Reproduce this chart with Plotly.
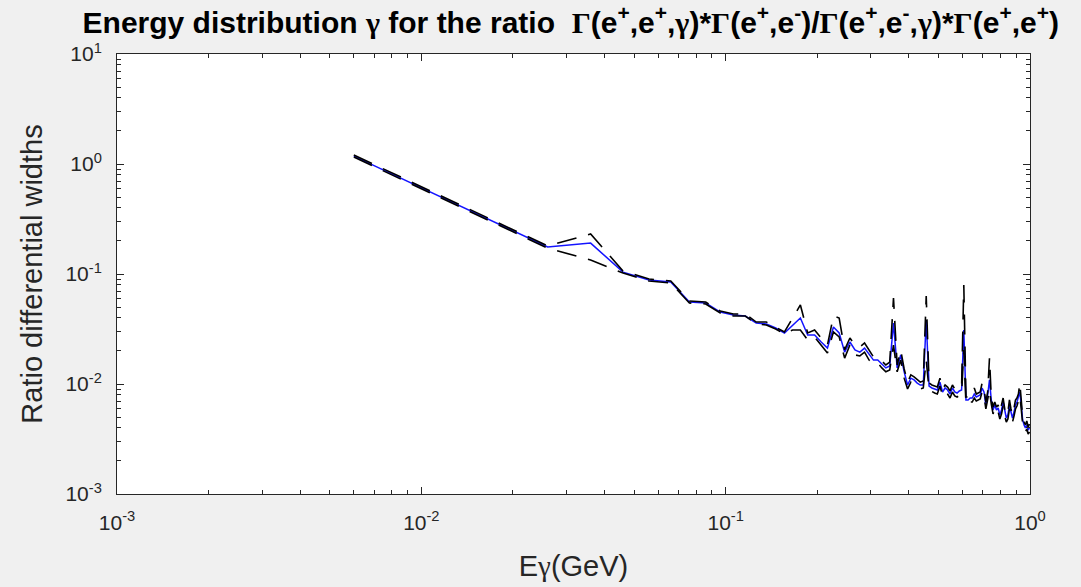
import plotly.graph_objects as go

# Photon energy grid (GeV)
energy = [
    0.006, 0.016, 0.026, 0.036, 0.046, 0.056, 0.066, 0.076, 0.086, 0.096,
    0.106, 0.116, 0.126, 0.136, 0.146, 0.156, 0.166, 0.176, 0.186, 0.196,
    0.206, 0.216, 0.226, 0.236, 0.246, 0.256, 0.266, 0.276, 0.286, 0.296,
    0.306, 0.316, 0.326, 0.336, 0.346, 0.356, 0.366, 0.376, 0.386, 0.396,
    0.406, 0.416, 0.426, 0.436, 0.446, 0.456, 0.466, 0.476, 0.486, 0.496,
    0.506, 0.516, 0.526, 0.536, 0.546, 0.556, 0.566, 0.576, 0.586, 0.596,
    0.606, 0.616, 0.626, 0.636, 0.646, 0.656, 0.666, 0.676, 0.686, 0.696,
    0.706, 0.716, 0.726, 0.736, 0.746, 0.756, 0.766, 0.776, 0.786, 0.796,
    0.806, 0.816, 0.826, 0.836, 0.846, 0.856, 0.866, 0.876, 0.886, 0.896,
    0.906, 0.916, 0.926, 0.936, 0.946, 0.956, 0.966, 0.976, 0.986, 0.996,
]

# Central ratio of differential widths
ratio_central = [
    1.18, 0.330, 0.176, 0.191, 0.104, 0.0882, 0.0846, 0.0556, 0.0545, 0.0451,
    0.0424, 0.0415, 0.0358, 0.0351, 0.0323, 0.0291, 0.0344, 0.0398, 0.0279, 0.0279,
    0.0241, 0.0212, 0.0330, 0.0291, 0.0195, 0.0241, 0.0204, 0.0195, 0.0212, 0.0184,
    0.0165, 0.0165, 0.0152, 0.0140, 0.0146, 0.0358, 0.0140, 0.0184, 0.0129, 0.00979,
    0.0113, 0.0109, 0.0102, 0.00979, 0.00979, 0.0382, 0.00959, 0.00920, 0.00901, 0.00882,
    0.0104, 0.00846, 0.00920, 0.00882, 0.00811, 0.00920, 0.00846, 0.00828, 0.00864, 0.00882,
    0.0310, 0.00716, 0.00716, 0.00746, 0.00746, 0.00811, 0.00762, 0.00778, 0.00794, 0.00920,
    0.00846, 0.00644, 0.00794, 0.0109, 0.00716, 0.00580, 0.00644, 0.00580, 0.00605, 0.00523,
    0.00580, 0.00686, 0.00556, 0.00491, 0.00523, 0.00644, 0.00556, 0.00491, 0.00556, 0.00644,
    0.00686, 0.00746, 0.00846, 0.00644, 0.00471, 0.00424, 0.00398, 0.00424, 0.00382, 0.00398,
]

# Upper variation
ratio_upper = [
    1.207, 0.337, 0.180, 0.231, 0.1065, 0.0901, 0.0864, 0.0568, 0.0556, 0.0461,
    0.0433, 0.0433, 0.0366, 0.0366, 0.0330, 0.0297, 0.0398, 0.0523, 0.0291, 0.0310,
    0.0262, 0.0226, 0.0415, 0.0398, 0.0204, 0.0262, 0.0226, 0.0217, 0.0236, 0.0204,
    0.0176, 0.0172, 0.0162, 0.0149, 0.0158, 0.0605, 0.0149, 0.0204, 0.0137, 0.0104,
    0.0121, 0.0116, 0.0109, 0.0104, 0.01065, 0.0631, 0.0102, 0.00979, 0.00959, 0.00939,
    0.0113, 0.00901, 0.00979, 0.00939, 0.00864, 0.00979, 0.00901, 0.00882, 0.00920, 0.00959,
    0.0794, 0.00762, 0.00762, 0.00794, 0.00794, 0.00920, 0.00811, 0.00828, 0.00846, 0.0102,
    0.00901, 0.00686, 0.00846, 0.0172, 0.00762, 0.00618, 0.00686, 0.00618, 0.00644, 0.00556,
    0.00631, 0.00746, 0.00593, 0.00523, 0.00556, 0.00716, 0.00593, 0.00523, 0.00605, 0.00716,
    0.00746, 0.00811, 0.0102, 0.00686, 0.00501, 0.00451, 0.00424, 0.00461, 0.00406, 0.00433,
]

# Lower variation
ratio_lower = [
    1.158, 0.323, 0.172, 0.134, 0.1021, 0.0864, 0.0829, 0.0545, 0.0534, 0.0442,
    0.0415, 0.0415, 0.0351, 0.0344, 0.0316, 0.0285, 0.0310, 0.0310, 0.0251, 0.0268,
    0.0226, 0.0191, 0.0297, 0.0268, 0.0172, 0.0226, 0.0184, 0.0180, 0.0195, 0.0165,
    0.0152, 0.0155, 0.0140, 0.0129, 0.0134, 0.0226, 0.0129, 0.0165, 0.0113, 0.00901,
    0.0104, 0.0100, 0.00939, 0.00901, 0.00920, 0.0165, 0.00882, 0.00846, 0.00828, 0.00811,
    0.00959, 0.00778, 0.00846, 0.00811, 0.00746, 0.00846, 0.00778, 0.00762, 0.00794, 0.00811,
    0.0204, 0.00658, 0.00658, 0.00686, 0.00686, 0.00746, 0.00701, 0.00716, 0.00731, 0.00846,
    0.00778, 0.00593, 0.00731, 0.00882, 0.00658, 0.00534, 0.00593, 0.00534, 0.00556, 0.00481,
    0.00534, 0.00631, 0.00512, 0.00451, 0.00481, 0.00593, 0.00512, 0.00451, 0.00512, 0.00593,
    0.00631, 0.00686, 0.00778, 0.00593, 0.00433, 0.00390, 0.00366, 0.00390, 0.00351, 0.00366,
]

x_decades = [-3, -2, -1, 0]
y_decades = [-3, -2, -1, 0, 1]

AX = "#262626"
SANS = "Liberation Sans, Arial, Helvetica, sans-serif"
SERIF = "Liberation Serif, Times New Roman, serif"


def sym(ch):
    return f'<span style="font-family:{SERIF}">{ch}</span>'


def dec_label(p):
    return f"10<sup>{p}</sup>"


def minor_vals(decades):
    vals = []
    for d in decades[:-1]:
        for m in range(2, 10):
            vals.append(m * 10 ** d)
    return vals


fig = go.Figure()

fig.add_trace(go.Scatter(x=energy, y=ratio_central, mode="lines",
                         line=dict(color="#1414ff", width=1.5), showlegend=False))
fig.add_trace(go.Scatter(x=energy, y=ratio_upper, mode="lines",
                         line=dict(color="#000000", width=1.6, dash="20px,12px"), showlegend=False))
fig.add_trace(go.Scatter(x=energy, y=ratio_lower, mode="lines",
                         line=dict(color="#000000", width=1.6, dash="20px,12px"), showlegend=False))

g = sym("&#947;")
G = sym("&#915;")
title = (f"<b>Energy distribution {g} for the ratio  "
         f"{G}(e<sup>+</sup>,e<sup>+</sup>,{g})*{G}(e<sup>+</sup>,e<sup>-</sup>)/"
         f"{G}(e<sup>+</sup>,e<sup>-</sup>,{g})*{G}(e<sup>+</sup>,e<sup>+</sup>)</b>")

axis_common = dict(
    type="log",
    automargin=False,
    showgrid=False,
    zeroline=False,
    showline=True,
    linecolor=AX,
    linewidth=1,
    mirror="ticks",
    ticks="inside",
    ticklen=7,
    tickwidth=1,
    tickcolor=AX,
    tickfont=dict(family=SANS, size=21, color=AX),
)

fig.update_layout(
    width=1081,
    height=587,
    paper_bgcolor="#f0f0f0",
    plot_bgcolor="#ffffff",
    margin=dict(l=117, r=51, t=54, b=93, autoexpand=False),
    title=dict(text=title, x=0.528, xanchor="center", y=0.962, yanchor="middle",
               font=dict(family=SANS, size=30, color="#000000")),
    xaxis=dict(
        **axis_common,
        range=[-3, 0],
        tickmode="array",
        tickvals=[10 ** d for d in x_decades],
        ticktext=[dec_label(d) for d in x_decades],
        ticklabelstandoff=10,
        minor=dict(tickmode="array", tickvals=minor_vals(x_decades), ticks="inside",
                   ticklen=4, tickwidth=1, tickcolor=AX, showgrid=False),
        title=dict(text=f"E{sym('&#947;')}(GeV)", standoff=22,
                   font=dict(family=SANS, size=29, color=AX)),
    ),
    yaxis=dict(
        **axis_common,
        range=[-3, 1],
        tickmode="array",
        tickvals=[10 ** d for d in y_decades],
        ticktext=[dec_label(d) for d in y_decades],
        ticklabelstandoff=10,
        minor=dict(tickmode="array", tickvals=minor_vals(y_decades), ticks="inside",
                   ticklen=4, tickwidth=1, tickcolor=AX, showgrid=False),
        title=dict(text="Ratio differential widths", standoff=14,
                   font=dict(family=SANS, size=29, color=AX)),
    ),
)

fig.write_html("out.html")
